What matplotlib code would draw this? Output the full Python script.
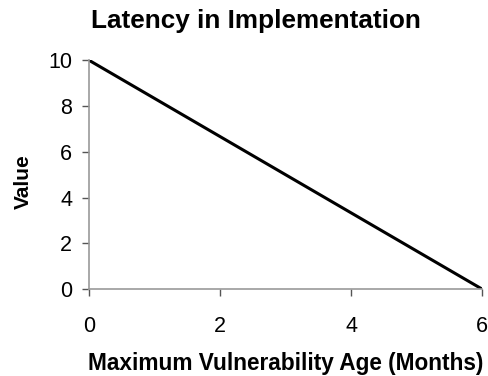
import matplotlib.pyplot as plt

plt.rcParams['font.family'] = ['Liberation Sans', 'DejaVu Sans']

# Data
age_months = [0, 6]
value = [10, 0]
xticks = [0, 2, 4, 6]
yticks = [0, 2, 4, 6, 8, 10]

fig = plt.figure(figsize=(4.88, 3.76), dpi=100)
ax = fig.add_axes([0.182, 0.231, 0.806, 0.609])

ax.plot(age_months, value, color="black", linewidth=2.2)
ax.set_xlim(0, 6)
ax.set_ylim(0, 10)
ax.set_xticks(xticks)
ax.set_yticks(yticks)

for s in ["top", "right"]:
    ax.spines[s].set_visible(False)
ax.spines["left"].set_color("#999999")
ax.spines["bottom"].set_color("#999999")
ax.spines["left"].set_linewidth(1.2)
ax.spines["bottom"].set_linewidth(1.2)

ax.tick_params(axis="y", length=5, width=1, color="#555555", pad=7, labelsize=15.5)
ax.tick_params(axis="x", length=5, width=1, color="#555555", pad=14, labelsize=15.5)

ax.set_title("Latency in Implementation", fontsize=18.8, fontweight="bold", pad=23, x=0.425)
ax.set_xlabel("Maximum Vulnerability Age (Months)", fontsize=16.3, fontweight="bold", labelpad=11)
ax.set_ylabel("Value", fontsize=15, fontweight="bold")
ax.yaxis.set_label_coords(-0.142, 0.47)

fig.savefig("out.png", dpi=100)
